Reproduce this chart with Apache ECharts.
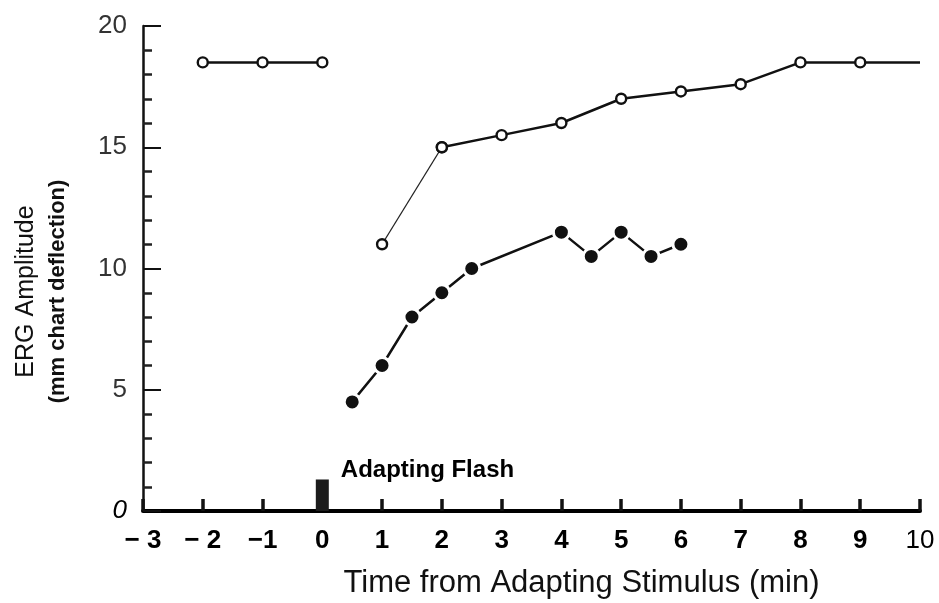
<!DOCTYPE html>
<html><head><meta charset="utf-8">
<script src="https://cdn.jsdelivr.net/npm/echarts@6/dist/echarts.min.js"></script>
<style>html,body{margin:0;padding:0;background:#fff}#c{width:939px;height:603px}</style>
</head><body><div id="c"></div>
<script>
// ---- data ----
const xTickValues = [-3,-2,-1,0,1,2,3,4,5,6,7,8,9,10];
const xTickLabels = ['− 3','− 2','−1','0','1','2','3','4','5','6','7','8','9','10'];
const yTickValues = [0,5,10,15,20];
const yTickLabels = ['0','5','10','15','20'];
const preX = [-2,-1,0];
const preY = [18.5,18.5,18.5];
const recoveryX = [1,2,3,4,5,6,7,8,9];
const recoveryY = [11,15,15.5,16,17,17.3,17.6,18.5,18.5];
const recoveryTailX = [10];
const recoveryTailY = [18.5];
const filledX = [0.5,1,1.5,2,2.5,4,4.5,5,5.5,6];
const filledY = [4.5,6,8,9,10,11.5,10.5,11.5,10.5,11];
const flashX = [0];
const flashY = [1.3];
const flashLabel = 'Adapting Flash';
const xTitle = 'Time from Adapting Stimulus (min)';
const yTitle1 = 'ERG Amplitude';
const yTitle2 = '(mm chart deflection)';

const zip = (xs, ys) => xs.map((x, i) => [x, ys[i]]);
const FONT = 'Liberation Sans, Arial, sans-serif';

const openStyle = {color:'#fff', borderColor:'#111', borderWidth:2.4};
const recoveryMain = zip(recoveryX.slice(1), recoveryY.slice(1))
  .concat(zip(recoveryTailX, recoveryTailY).map(p => ({value:p, symbol:'none'})));

const chart = echarts.init(document.getElementById('c'), null, {renderer:'canvas'});
chart.setOption({
  backgroundColor:'#fff',
  animation:false,
  grid:{left:143, right:19, top:26, bottom:92, containLabel:false, outerBoundsMode:'none'},
  xAxis:{
    type:'value', min:-3, max:10, interval:1,
    name:xTitle, nameLocation:'middle', nameGap:57,
    nameTextStyle:{fontFamily:FONT, fontSize:31, color:'#111', padding:[0,0,0,100], verticalAlign:'top', letterSpacing:1.5},
    axisLine:{show:true, onZero:false, lineStyle:{color:'#000', width:4}},
    axisTick:{show:true, inside:true, length:12, lineStyle:{color:'#111', width:3.5}},
    axisLabel:{
      margin:17, fontFamily:FONT, fontSize:26, fontWeight:'bold', color:'#000',
      formatter:(v)=>{const i = xTickValues.indexOf(v); const s = i>=0 ? xTickLabels[i] : ''; return s==='10' ? '{n|10}' : s;},
      rich:{n:{fontFamily:FONT, fontSize:26, fontWeight:'normal', color:'#000'}}
    },
    splitLine:{show:false}
  },
  yAxis:{
    type:'value', min:0, max:20, interval:5,
    name:'{a|'+yTitle1+'}\n{b|'+yTitle2+'}', nameLocation:'middle', nameGap:69,
    nameTextStyle:{padding:[0,46,0,0], rich:{
      a:{fontFamily:FONT, fontSize:25, color:'#111', lineHeight:32, align:'center'},
      b:{fontFamily:FONT, fontSize:22, fontWeight:'bold', color:'#111', lineHeight:32, align:'center'}
    }},
    axisLine:{show:true, onZero:false, lineStyle:{color:'#111', width:2.5}},
    axisTick:{show:true, inside:true, length:18, lineStyle:{color:'#111', width:2}},
    minorTick:{show:true, splitNumber:5, length:9, lineStyle:{color:'#222', width:2.5}},
    axisLabel:{
      margin:16, fontFamily:FONT, fontSize:26, color:'#333',
      formatter:(v)=>{const i = yTickValues.indexOf(v); const s = i>=0 ? yTickLabels[i] : ''; return v===0 ? '{i|'+s+'}' : s;},
      rich:{i:{fontFamily:FONT, fontSize:26, fontStyle:'italic', color:'#000'}}
    },
    splitLine:{show:false}, minorSplitLine:{show:false}
  },
  series:[
    {type:'bar', data:zip(flashX, flashY), barWidth:13, itemStyle:{color:'#1c1c1c'},
     label:{show:true, formatter:flashLabel, position:[25,-9], align:'left', verticalAlign:'middle',
       fontFamily:FONT, fontSize:24, fontWeight:'bold', color:'#000'}, z:3},
    {type:'line', data:zip(preX, preY), symbol:'circle', symbolSize:10, showSymbol:true,
     itemStyle:openStyle, lineStyle:{color:'#111', width:2.5}, z:4},
    {type:'line', data:zip(recoveryX.slice(0,2), recoveryY.slice(0,2)), symbol:'circle', symbolSize:10,
     itemStyle:openStyle, lineStyle:{color:'#222', width:1.3}, z:4},
    {type:'line', data:recoveryMain, symbol:'circle', symbolSize:10,
     itemStyle:openStyle, lineStyle:{color:'#111', width:2.5}, z:5},
    {type:'line', data:zip(filledX, filledY), symbol:'circle', symbolSize:16,
     itemStyle:{color:'#111', borderColor:'#fff', borderWidth:3}, lineStyle:{color:'#111', width:2.5}, z:5}
  ]
});
</script></body></html>
